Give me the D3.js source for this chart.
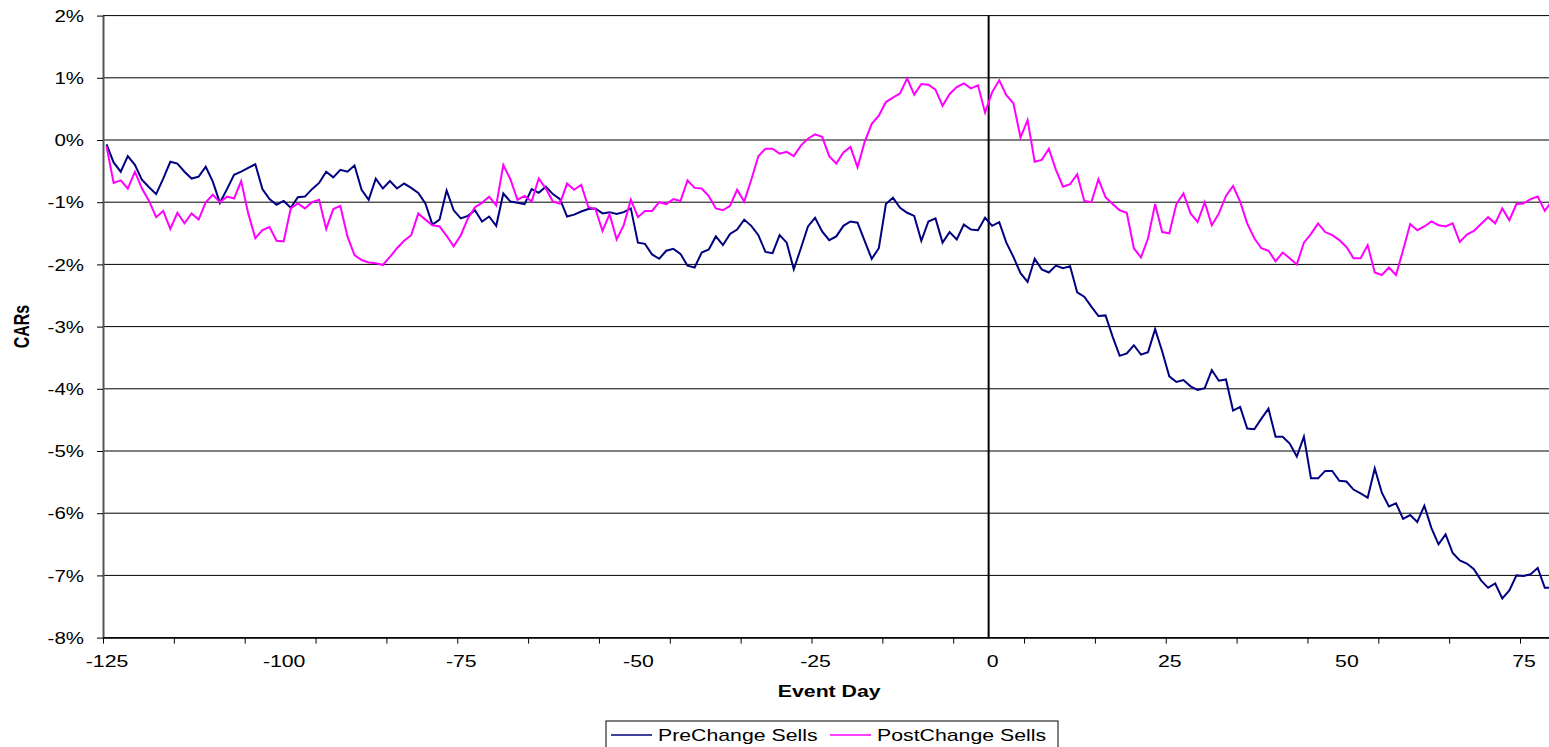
<!DOCTYPE html>
<html>
<head>
<meta charset="utf-8">
<script src="https://cdn.jsdelivr.net/npm/d3@7"></script>
<style>
    body { margin: 0; background: #ffffff; }
    svg { display: block; }
    text { font-family: Arial, "Liberation Sans", sans-serif; fill: #000000; }
</style>
</head>
<body>
<div id="chart"></div>
<script>
'use strict';

// event days shown on the category axis (last one is cut by the right border)
const eventDays = d3.range(-125, 80);

// cumulative abnormal returns, in percent, one value per event day
const preChangeSells = [
    -0.07, -0.36, -0.51, -0.26, -0.40, -0.64, -0.76, -0.87, -0.62, -0.35,
    -0.38, -0.51, -0.62, -0.59, -0.43, -0.67, -1.01, -0.79, -0.56, -0.51,
    -0.45, -0.39, -0.79, -0.95, -1.04, -0.98, -1.09, -0.92, -0.91, -0.79,
    -0.69, -0.51, -0.60, -0.48, -0.51, -0.41, -0.80, -0.96, -0.62, -0.78,
    -0.66, -0.78, -0.70, -0.77, -0.85, -1.02, -1.36, -1.28, -0.81, -1.13,
    -1.26, -1.22, -1.13, -1.31, -1.23, -1.38, -0.86, -0.99, -1.01, -1.03,
    -0.79, -0.85, -0.75, -0.87, -0.95, -1.23, -1.20, -1.15, -1.11, -1.10,
    -1.18, -1.16, -1.19, -1.16, -1.10, -1.65, -1.67, -1.84, -1.91, -1.78,
    -1.75, -1.83, -2.02, -2.05, -1.81, -1.76, -1.55, -1.69, -1.51, -1.44,
    -1.28, -1.38, -1.53, -1.80, -1.82, -1.53, -1.65, -2.08, -1.74, -1.39,
    -1.25, -1.47, -1.61, -1.55, -1.38, -1.31, -1.33, -1.62, -1.91, -1.74,
    -1.03, -0.93, -1.09, -1.17, -1.22, -1.62, -1.31, -1.26, -1.65, -1.48,
    -1.60, -1.36, -1.44, -1.45, -1.25, -1.38, -1.32, -1.65, -1.88, -2.14,
    -2.28, -1.91, -2.08, -2.13, -2.02, -2.06, -2.03, -2.45, -2.52, -2.68,
    -2.83, -2.82, -3.16, -3.47, -3.43, -3.30, -3.45, -3.41, -3.04, -3.40,
    -3.80, -3.89, -3.86, -3.96, -4.02, -3.99, -3.70, -3.87, -3.85, -4.35,
    -4.29, -4.64, -4.65, -4.48, -4.32, -4.77, -4.77, -4.88, -5.09, -4.77,
    -5.44, -5.44, -5.32, -5.32, -5.48, -5.49, -5.62, -5.68, -5.75, -5.28,
    -5.67, -5.89, -5.84, -6.09, -6.03, -6.14, -5.88, -6.24, -6.50, -6.34,
    -6.64, -6.76, -6.81, -6.90, -7.08, -7.20, -7.13, -7.37, -7.24, -7.00,
    -7.01, -6.98, -6.88, -7.20, -7.20
];

const postChangeSells = [
    -0.10, -0.69, -0.65, -0.78, -0.51, -0.78, -0.98, -1.24, -1.14, -1.43,
    -1.17, -1.34, -1.18, -1.28, -1.00, -0.88, -1.00, -0.91, -0.94, -0.66,
    -1.18, -1.58, -1.45, -1.40, -1.62, -1.63, -1.10, -1.02, -1.10, -1.00,
    -0.96, -1.43, -1.11, -1.06, -1.55, -1.85, -1.93, -1.97, -1.98, -2.01,
    -1.88, -1.74, -1.62, -1.53, -1.18, -1.28, -1.37, -1.39, -1.54, -1.71,
    -1.53, -1.26, -1.08, -1.01, -0.91, -1.05, -0.40, -0.63, -0.96, -0.90,
    -0.99, -0.62, -0.78, -0.99, -1.02, -0.70, -0.80, -0.72, -1.08, -1.11,
    -1.46, -1.19, -1.60, -1.37, -0.96, -1.24, -1.14, -1.14, -1.00, -1.03,
    -0.95, -0.98, -0.65, -0.77, -0.78, -0.90, -1.10, -1.13, -1.06, -0.80,
    -0.99, -0.64, -0.26, -0.14, -0.14, -0.22, -0.19, -0.26, -0.09, 0.02,
    0.09, 0.05, -0.26, -0.38, -0.20, -0.11, -0.44, -0.03, 0.26, 0.39,
    0.61, 0.68, 0.75, 0.99, 0.73, 0.90, 0.89, 0.81, 0.55, 0.74,
    0.85, 0.91, 0.83, 0.88, 0.44, 0.77, 0.96, 0.72, 0.59, 0.04,
    0.32, -0.35, -0.32, -0.14, -0.48, -0.75, -0.71, -0.55, -0.98, -1.00,
    -0.63, -0.92, -1.03, -1.13, -1.17, -1.74, -1.89, -1.58, -1.03, -1.48,
    -1.50, -1.03, -0.86, -1.18, -1.32, -1.00, -1.37, -1.18, -0.90, -0.74,
    -0.99, -1.34, -1.58, -1.74, -1.78, -1.95, -1.81, -1.90, -2.00, -1.65,
    -1.51, -1.34, -1.48, -1.53, -1.61, -1.72, -1.90, -1.90, -1.69, -2.13,
    -2.17, -2.05, -2.17, -1.77, -1.35, -1.45, -1.39, -1.31, -1.37, -1.39,
    -1.34, -1.64, -1.52, -1.46, -1.35, -1.24, -1.34, -1.10, -1.29, -1.03,
    -1.02, -0.95, -0.91, -1.14, -0.98
];

const seriesNames = ["PreChange Sells", "PostChange Sells"];
const seriesColors = ["#000080", "#ff00ff"];

const yTickValues = d3.range(-8, 2.5, 1);
const xLabelDays = [-125, -100, -75, -50, -25, 0, 25, 50, 75];

//------------------------------------------------------------
// layout (the original picture was stretched sideways,
// so text gets a horizontal scale factor)
//------------------------------------------------------------
const svgWidth = 1549;
const svgHeight = 747;
const plotLeft = 103;
const plotTop = 15.6;
const plotBottom = 637.6;
const catWidth = 7.085;
const plotRight = plotLeft + eventDays.length * catWidth;
const stretch = 1.33;
const fontSize = 16;

// day d is centred in its category slot
const xScale = d3.scaleLinear()
                 .domain([eventDays[0] - 0.5, eventDays[eventDays.length - 1] + 0.5])
                 .range([plotLeft, plotRight]);

const yScale = d3.scaleLinear()
                 .domain([-8, 2])
                 .range([plotBottom, plotTop]);

const svg = d3.select("#chart")
              .append("svg")
              .attr("width", svgWidth)
              .attr("height", svgHeight);

svg.append("rect")
   .attr("width", svgWidth)
   .attr("height", svgHeight)
   .attr("fill", "#ffffff");

// horizontal gridlines
svg.append("g")
   .selectAll("line")
   .data(yTickValues)
   .enter()
   .append("line")
   .attr("x1", plotLeft)
   .attr("x2", plotRight)
   .attr("y1", (d) => yScale(d))
   .attr("y2", (d) => yScale(d))
   .attr("stroke", "#000000")
   .attr("stroke-width", 1);

// y axis with percent labels
let yAxis = svg.append("g")
               .attr("transform", `translate(${plotLeft},0)`)
               .call(d3.axisLeft(yScale)
                       .tickValues(yTickValues)
                       .tickSize(6)
                       .tickSizeOuter(0)
                       .tickFormat((d) => d + "%"));
yAxis.select(".domain").attr("stroke", "#555555").attr("stroke-width", 2);
yAxis.selectAll(".tick line").attr("stroke", "#000000");
yAxis.selectAll(".tick text")
     .attr("x", 0)
     .attr("dy", "0.36em")
     .attr("transform", "translate(-19,0) scale(1.28,1)")
     .style("font-size", fontSize + "px")
     .style("font-family", "Arial, 'Liberation Sans', sans-serif")
     .attr("fill", "#000000");

// x axis: tick marks every 10 categories, labels every 25
let xTicks = svg.append("g")
                .attr("transform", `translate(0,${plotBottom})`)
                .call(d3.axisBottom(xScale)
                        .tickValues(d3.range(eventDays[0] - 0.5, eventDays[eventDays.length - 1] + 1, 10))
                        .tickSize(6)
                        .tickSizeOuter(0)
                        .tickFormat(""));
xTicks.select(".domain").attr("stroke", "#000000").attr("stroke-width", 1.5);
xTicks.selectAll(".tick line").attr("stroke", "#000000");

let xLabels = svg.append("g")
                 .attr("transform", `translate(0,${plotBottom})`)
                 .call(d3.axisBottom(xScale)
                         .tickValues(xLabelDays)
                         .tickSize(0)
                         .tickFormat((d) => d));
xLabels.select(".domain").remove();
xLabels.selectAll(".tick text")
       .attr("y", 0)
       .attr("dy", 0)
       .attr("transform", `translate(0,29) scale(${stretch},1)`)
       .style("font-size", fontSize + "px")
       .style("font-family", "Arial, 'Liberation Sans', sans-serif")
       .attr("fill", "#000000");

// vertical line at the start of event day 0
svg.append("line")
   .attr("x1", xScale(-0.5))
   .attr("x2", xScale(-0.5))
   .attr("y1", plotTop)
   .attr("y2", plotBottom)
   .attr("stroke", "#000000")
   .attr("stroke-width", 2);

// axis titles
svg.append("text")
   .attr("transform", `translate(${(plotLeft + plotRight) / 2},697) scale(${stretch},1)`)
   .attr("text-anchor", "middle")
   .style("font-size", fontSize + "px")
   .style("font-weight", "bold")
   .text("Event Day");

svg.append("text")
   .attr("transform", `translate(29,${(plotTop + plotBottom) / 2}) scale(${stretch},1) rotate(-90)`)
   .attr("text-anchor", "middle")
   .style("font-size", fontSize + "px")
   .style("font-weight", "bold")
   .text("CARs");

//------------------------------------------------------------
// the two series
//------------------------------------------------------------
svg.append("clipPath")
   .attr("id", "plotClip")
   .append("rect")
   .attr("x", plotLeft)
   .attr("y", 0)
   .attr("width", plotRight - plotLeft)
   .attr("height", svgHeight);

const lineGen = d3.line()
                  .x((d, i) => xScale(eventDays[i]))
                  .y((d) => yScale(d));

const seriesData = [preChangeSells, postChangeSells];

svg.append("g")
   .attr("clip-path", "url(#plotClip)")
   .selectAll("path")
   .data(seriesData)
   .enter()
   .append("path")
   .attr("d", (d) => lineGen(d))
   .attr("fill", "none")
   .attr("stroke", (d, i) => seriesColors[i])
   .attr("stroke-width", 2)
   .attr("stroke-linejoin", "miter");

//------------------------------------------------------------
// legend (bottom edge falls outside the picture)
//------------------------------------------------------------
const legendX = 606;
const legendY = 721;
const legendItemX = [611, 830];

let legend = svg.append("g");
legend.append("rect")
      .attr("x", legendX)
      .attr("y", legendY)
      .attr("width", 452)
      .attr("height", 40)
      .attr("fill", "#ffffff")
      .attr("stroke", "#000000")
      .attr("stroke-width", 1);

let legendItems = legend.selectAll("g.item")
                        .data(seriesNames)
                        .enter()
                        .append("g")
                        .attr("class", "item")
                        .attr("transform", (d, i) => `translate(${legendItemX[i]},0)`);

legendItems.append("line")
           .attr("x1", 0)
           .attr("x2", 41)
           .attr("y1", 735)
           .attr("y2", 735)
           .attr("stroke", (d, i) => seriesColors[i])
           .attr("stroke-width", 1.5);

legendItems.append("text")
           .attr("transform", `translate(47,741) scale(${stretch},1)`)
           .style("font-size", fontSize + "px")
           .text((d) => d);
</script>
</body>
</html>
